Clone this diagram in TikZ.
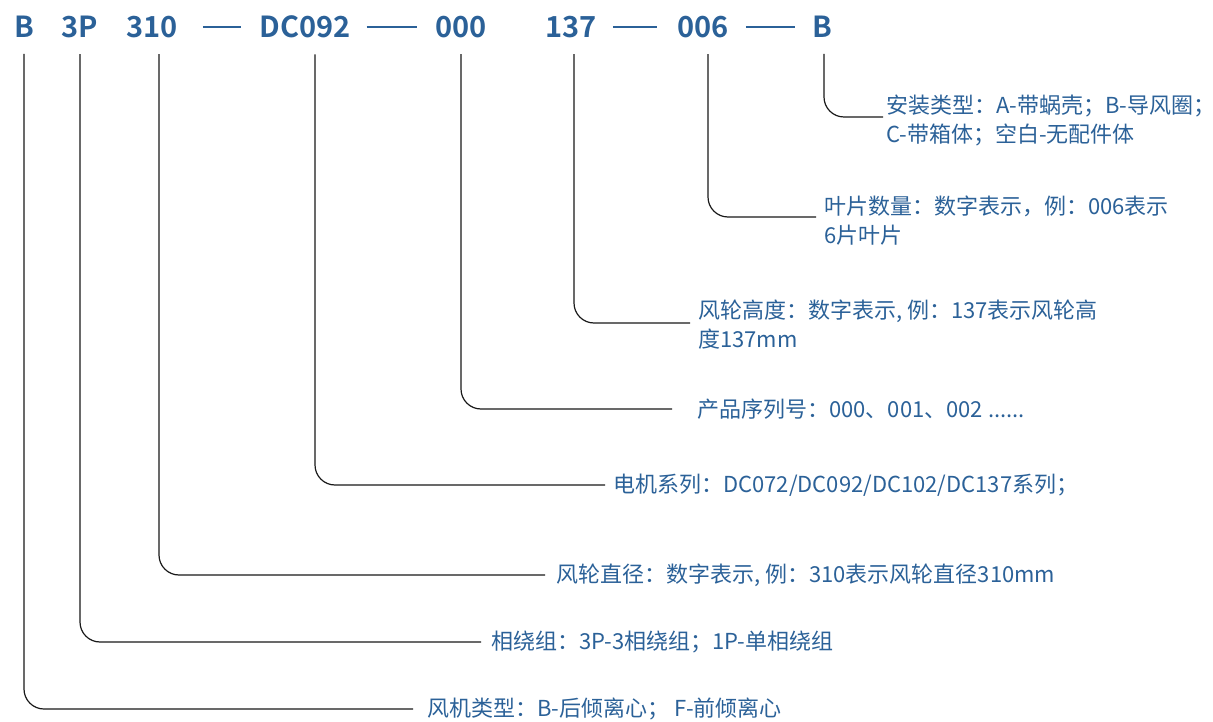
\documentclass[tikz,border=0pt]{standalone}
\usepackage{fontspec}
\setmainfont{Noto Sans CJK SC}[BoldFont={Noto Sans CJK SC Bold}]
\usetikzlibrary{positioning,calc}
\definecolor{codeblue}{RGB}{43,97,152}

\begin{document}
\begin{tikzpicture}[x=1pt,y=-1pt,
    code/.style={font=\fontsize{29}{32}\selectfont\bfseries, text=codeblue, inner sep=0pt},
    desc/.style={font=\fontsize{22}{29}\selectfont, text=codeblue, align=left, anchor=west, inner sep=0pt},
    lead/.style={draw=black!90, line width=1.2pt, rounded corners=20pt, shorten >=8pt},
    dashrule/.style={draw=codeblue, line width=1.5pt}]

  \useasboundingbox (0,0) rectangle (1213,722);

  \node[code] (cB)   at (24,27)  {B};
  \node[code] (c3P)  at (80,27)  {3P};
  \node[code] (c310) at (152,27) {310};
  \node[code] (cDC)  at (305,27) {DC092};
  \node[code] (c000) at (461,27) {000};
  \node[code] (c137) at (571,27) {137};
  \node[code] (c006) at (703,27) {006};
  \node[code] (cB2)  at (822,27) {B};

  \draw[dashrule, shorten <=25pt, shorten >=18pt] (c310.east) -- (cDC.west);
  \draw[dashrule, shorten <=16pt, shorten >=18pt] (cDC.east) -- (c000.west);
  \draw[dashrule, shorten <=16pt, shorten >=20pt] (c137.east) -- (c006.west);
  \draw[dashrule, shorten <=17pt, shorten >=17pt] (c006.east) -- (cB2.west);

  \node[desc] (dB2)  at (886,121) {安装类型：A-带蜗壳；B-导风圈；\\C-带箱体；空白-无配件体};
  \node[desc] (d006) at (824,221) {叶片数量：数字表示，例：006表示\\6片叶片};
  \node[desc] (d137) at (698,325) {风轮高度：数字表示, 例：137表示风轮高\\度137mm};
  \node[desc] (d000) at (697,409) {产品序列号：000、001、002 ......};
  \node[desc] (dDC)  at (613,485) {电机系列：DC072/DC092/DC102/DC137系列；};
  \node[desc] (d310) at (556,575) {风轮直径：数字表示, 例：310表示风轮直径310mm};
  \node[desc] (d3P)  at (491,642) {相绕组：3P-3相绕组；1P-单相绕组};
  \node[desc] (dB)   at (427,709) {风机类型：B-后倾离心； F-前倾离心};

  \draw[lead, shorten >=3pt] ([xshift=2pt,yshift=-16pt]cB2.south) |- ([yshift=4pt]dB2.west);
  \draw[lead] ([xshift=5pt,yshift=-16pt]c006.south) |- ([yshift=4pt]d006.west);
  \draw[lead] ([xshift=3pt,yshift=-16pt]c137.south) |- ([yshift=2pt]d137.west);
  \draw[lead, shorten >=25pt] ([yshift=-16pt]c000.south) |- (d000.west);
  \draw[lead] ([xshift=10pt,yshift=-16pt]cDC.south) |- (dDC.west);
  \draw[lead, shorten >=11pt] ([xshift=7pt,yshift=-16pt]c310.south) |- (d310.west);
  \draw[lead, shorten >=10pt] ([yshift=-16pt]c3P.south) |- (d3P.west);
  \draw[lead, shorten >=14pt] ([yshift=-16pt]cB.south) |- (dB.west);
\end{tikzpicture}
\end{document}
